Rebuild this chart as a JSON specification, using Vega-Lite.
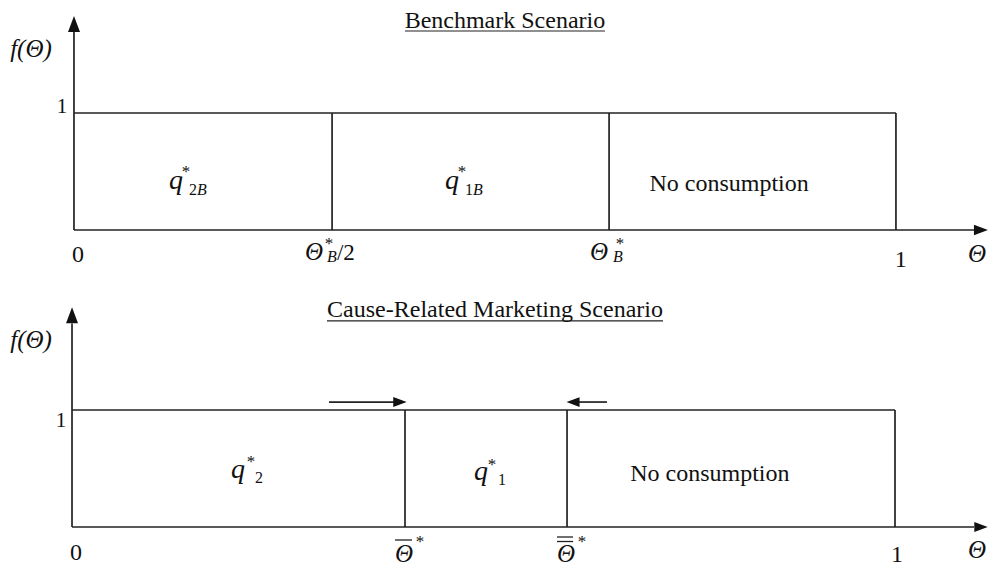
{
  "$schema": "https://vega.github.io/schema/vega-lite/v6.json",
  "padding": 0,
  "background": "white",
  "spacing": 0,
  "config": {
    "view": {"stroke": null},
    "text": {"font": "Liberation Serif", "color": "#111"},
    "concat": {"spacing": 0}
  },
  "vconcat": [
    {
      "width": 988,
      "height": 284,
      "encoding": {
        "x": {"field": "t", "type": "quantitative", "scale": {"domain": [-0.09, 1.112], "nice": false, "zero": false}, "axis": null},
        "y": {"field": "f", "type": "quantitative", "scale": {"domain": [-0.4615, 1.966], "nice": false, "zero": false}, "axis": null}
      },
      "layer": [
        {
          "data": {"values": [
            {"t": 0, "f": 0, "t2": 0, "f2": 1.70},
            {"t": 0, "f": 0, "t2": 1.096, "f2": 0},
            {"t": 0.314, "f": 0, "t2": 0.314, "f2": 1},
            {"t": 0.651, "f": 0, "t2": 0.651, "f2": 1},
            {"t": 0, "f": 1, "t2": 1, "f2": 1},
            {"t": 1, "f": 0, "t2": 1, "f2": 1}
          ]},
          "mark": {"type": "rule", "color": "#222", "strokeWidth": 1.7},
          "encoding": {"x2": {"field": "t2"}, "y2": {"field": "f2"}}
        },
        {
          "data": {"values": [{"t": 0.4027, "f": 1.701, "t2": 0.646, "f2": 1.701}]},
          "mark": {"type": "rule", "color": "#222", "strokeWidth": 1.2},
          "encoding": {"x2": {"field": "t2"}, "y2": {"field": "f2"}}
        },
        {
          "data": {"values": [{"t": 0, "f": 1.761}]},
          "mark": {"type": "point", "shape": "M-0.75,1L0,-1L0.75,1Z", "size": 256, "filled": true, "color": "#111", "opacity": 1, "strokeWidth": 0}
        },
        {
          "data": {"values": [{"t": 1.1034, "f": 0}]},
          "mark": {"type": "point", "shape": "M-1,-0.75L1,0L-1,0.75Z", "size": 196, "filled": true, "color": "#111", "opacity": 1, "strokeWidth": 0}
        },
        {
          "data": {"values": [
            {"t": 0.5243, "f": 1.726, "label": "Benchmark Scenario"},
            {"t": 0.797, "f": 0.333, "label": "No consumption"},
            {"t": 0.0049, "f": -0.2735, "label": "0"},
            {"t": 1.006, "f": -0.316, "label": "1"}
          ]},
          "mark": {"type": "text", "fontSize": 24, "align": "center", "baseline": "alphabetic"},
          "encoding": {"text": {"field": "label"}}
        },
        {
          "data": {"values": [{"t": -0.0146, "f": 1.0, "label": "1"}]},
          "mark": {"type": "text", "fontSize": 21, "align": "center", "baseline": "alphabetic"},
          "encoding": {"text": {"field": "label"}}
        },
        {
          "data": {"values": [
            {"t": -0.0523, "f": 1.479, "label": "f(Θ)"},
            {"t": 0.292, "f": -0.2564, "label": "Θ"},
            {"t": 0.6387, "f": -0.2564, "label": "Θ"},
            {"t": 1.0986, "f": -0.2735, "label": "Θ"}
          ]},
          "mark": {"type": "text", "fontSize": 25, "fontStyle": "italic", "align": "center", "baseline": "alphabetic"},
          "encoding": {"text": {"field": "label"}}
        },
        {
          "data": {"values": [
            {"t": 0.1241, "f": 0.35, "label": "q"},
            {"t": 0.46, "f": 0.35, "label": "q"}
          ]},
          "mark": {"type": "text", "fontSize": 28, "fontStyle": "italic", "align": "center", "baseline": "alphabetic"},
          "encoding": {"text": {"field": "label"}}
        },
        {
          "data": {"values": [
            {"t": 0.1363, "f": 0.45, "label": "*"},
            {"t": 0.472, "f": 0.45, "label": "*"},
            {"t": 0.3102, "f": -0.16, "label": "*"},
            {"t": 0.6642, "f": -0.16, "label": "*"}
          ]},
          "mark": {"type": "text", "fontSize": 17, "align": "center", "baseline": "alphabetic"},
          "encoding": {"text": {"field": "label"}}
        },
        {
          "data": {"values": [
            {"t": 0.1399, "f": 0.30, "label": "2"},
            {"t": 0.4757, "f": 0.30, "label": "1"}
          ]},
          "mark": {"type": "text", "fontSize": 16, "align": "left", "baseline": "alphabetic"},
          "encoding": {"text": {"field": "label"}}
        },
        {
          "data": {"values": [
            {"t": 0.1496, "f": 0.30, "label": "B"},
            {"t": 0.4854, "f": 0.30, "label": "B"},
            {"t": 0.3078, "f": -0.2735, "label": "B"},
            {"t": 0.6557, "f": -0.2735, "label": "B"}
          ]},
          "mark": {"type": "text", "fontSize": 16, "fontStyle": "italic", "align": "left", "baseline": "alphabetic"},
          "encoding": {"text": {"field": "label"}}
        },
        {
          "data": {"values": [{"t": 0.3199, "f": -0.2564, "label": "/2"}]},
          "mark": {"type": "text", "fontSize": 23, "align": "left", "baseline": "alphabetic"},
          "encoding": {"text": {"field": "label"}}
        }
      ]
    },
    {
      "width": 988,
      "height": 284,
      "encoding": {
        "x": {"field": "t", "type": "quantitative", "scale": {"domain": [-0.0875, 1.113], "nice": false, "zero": false}, "axis": null},
        "y": {"field": "f", "type": "quantitative", "scale": {"domain": [-0.3504, 2.0769], "nice": false, "zero": false}, "axis": null}
      },
      "layer": [
        {
          "data": {"values": [
            {"t": 0, "f": 0, "t2": 0, "f2": 1.74},
            {"t": 0, "f": 0, "t2": 1.096, "f2": 0},
            {"t": 0.4046, "f": 0, "t2": 0.4046, "f2": 1},
            {"t": 0.6015, "f": 0, "t2": 0.6015, "f2": 1},
            {"t": 0, "f": 1, "t2": 1, "f2": 1},
            {"t": 1, "f": 0, "t2": 1, "f2": 1},
            {"t": 0.3123, "f": 1.068, "t2": 0.3913, "f2": 1.068},
            {"t": 0.6148, "f": 1.068, "t2": 0.650, "f2": 1.068}
          ]},
          "mark": {"type": "rule", "color": "#222", "strokeWidth": 1.7},
          "encoding": {"x2": {"field": "t2"}, "y2": {"field": "f2"}}
        },
        {
          "data": {"values": [
            {"t": 0.3098, "f": 1.761, "t2": 0.7181, "f2": 1.761},
            {"t": 0.3925, "f": -0.111, "t2": 0.4131, "f2": -0.111},
            {"t": 0.5893, "f": -0.0855, "t2": 0.6088, "f2": -0.0855},
            {"t": 0.5893, "f": -0.124, "t2": 0.6088, "f2": -0.124}
          ]},
          "mark": {"type": "rule", "color": "#222", "strokeWidth": 1.3},
          "encoding": {"x2": {"field": "t2"}, "y2": {"field": "f2"}}
        },
        {
          "data": {"values": [{"t": 0, "f": 1.81}]},
          "mark": {"type": "point", "shape": "M-0.75,1L0,-1L0.75,1Z", "size": 256, "filled": true, "color": "#111", "opacity": 1, "strokeWidth": 0}
        },
        {
          "data": {"values": [{"t": 1.1045, "f": 0}, {"t": 0.3985, "f": 1.068}]},
          "mark": {"type": "point", "shape": "M-1,-0.75L1,0L-1,0.75Z", "size": 180, "filled": true, "color": "#111", "opacity": 1, "strokeWidth": 0}
        },
        {
          "data": {"values": [{"t": 0.6088, "f": 1.068}]},
          "mark": {"type": "point", "shape": "M1,-0.75L-1,0L1,0.75Z", "size": 169, "filled": true, "color": "#111", "opacity": 1, "strokeWidth": 0}
        },
        {
          "data": {"values": [
            {"t": 0.514, "f": 1.795, "label": "Cause-Related Marketing Scenario"},
            {"t": 0.775, "f": 0.393, "label": "No consumption"},
            {"t": 0.0049, "f": -0.282, "label": "0"},
            {"t": 1.0024, "f": -0.299, "label": "1"}
          ]},
          "mark": {"type": "text", "fontSize": 24, "align": "center", "baseline": "alphabetic"},
          "encoding": {"text": {"field": "label"}}
        },
        {
          "data": {"values": [{"t": -0.0134, "f": 0.855, "label": "1"}]},
          "mark": {"type": "text", "fontSize": 21, "align": "center", "baseline": "alphabetic"},
          "encoding": {"text": {"field": "label"}}
        },
        {
          "data": {"values": [
            {"t": -0.0498, "f": 1.53, "label": "f(Θ)"},
            {"t": 1.0996, "f": -0.265, "label": "Θ"},
            {"t": 0.4034, "f": -0.299, "label": "Θ"},
            {"t": 0.6002, "f": -0.299, "label": "Θ"}
          ]},
          "mark": {"type": "text", "fontSize": 25, "fontStyle": "italic", "align": "center", "baseline": "alphabetic"},
          "encoding": {"text": {"field": "label"}}
        },
        {
          "data": {"values": [
            {"t": 0.2017, "f": 0.419, "label": "q"},
            {"t": 0.497, "f": 0.402, "label": "q"}
          ]},
          "mark": {"type": "text", "fontSize": 28, "fontStyle": "italic", "align": "center", "baseline": "alphabetic"},
          "encoding": {"text": {"field": "label"}}
        },
        {
          "data": {"values": [
            {"t": 0.2175, "f": 0.513, "label": "*"},
            {"t": 0.5103, "f": 0.487, "label": "*"},
            {"t": 0.4229, "f": -0.17, "label": "*"},
            {"t": 0.6197, "f": -0.17, "label": "*"}
          ]},
          "mark": {"type": "text", "fontSize": 17, "align": "center", "baseline": "alphabetic"},
          "encoding": {"text": {"field": "label"}}
        },
        {
          "data": {"values": [
            {"t": 0.2224, "f": 0.376, "label": "2"},
            {"t": 0.5176, "f": 0.359, "label": "1"}
          ]},
          "mark": {"type": "text", "fontSize": 16, "align": "left", "baseline": "alphabetic"},
          "encoding": {"text": {"field": "label"}}
        }
      ]
    }
  ]
}
